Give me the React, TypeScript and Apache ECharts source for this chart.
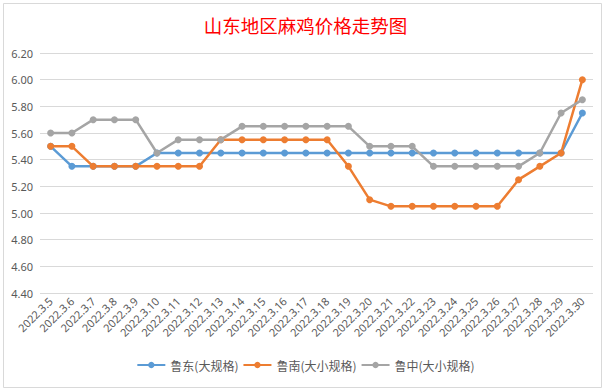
import React, { useEffect, useRef } from "react";
import * as echarts from "echarts";

const categories = [
  "2022.3.5", "2022.3.6", "2022.3.7", "2022.3.8", "2022.3.9", "2022.3.10",
  "2022.3.11", "2022.3.12", "2022.3.13", "2022.3.14", "2022.3.15", "2022.3.16",
  "2022.3.17", "2022.3.18", "2022.3.19", "2022.3.20", "2022.3.21", "2022.3.22",
  "2022.3.23", "2022.3.24", "2022.3.25", "2022.3.26", "2022.3.27", "2022.3.28",
  "2022.3.29", "2022.3.30",
];

const ludong = [
  5.5, 5.35, 5.35, 5.35, 5.35, 5.45, 5.45, 5.45, 5.45, 5.45, 5.45, 5.45, 5.45,
  5.45, 5.45, 5.45, 5.45, 5.45, 5.45, 5.45, 5.45, 5.45, 5.45, 5.45, 5.45, 5.75,
];
const lunan = [
  5.5, 5.5, 5.35, 5.35, 5.35, 5.35, 5.35, 5.35, 5.55, 5.55, 5.55, 5.55, 5.55,
  5.55, 5.35, 5.1, 5.05, 5.05, 5.05, 5.05, 5.05, 5.05, 5.25, 5.35, 5.45, 6.0,
];
const luzhong = [
  5.6, 5.6, 5.7, 5.7, 5.7, 5.45, 5.55, 5.55, 5.55, 5.65, 5.65, 5.65, 5.65,
  5.65, 5.65, 5.5, 5.5, 5.5, 5.35, 5.35, 5.35, 5.35, 5.35, 5.45, 5.75, 5.85,
];

const seriesNames = ["鲁东(大规格)", "鲁南(大小规格)", "鲁中(大小规格)"];
const colors = ["#5B9BD5", "#ED7D31", "#A5A5A5"];

export default function App() {
  const ref = useRef<HTMLDivElement>(null);
  useEffect(() => {
    if (!ref.current) return;
    const chart = echarts.init(ref.current, null, { renderer: "svg" });
    const mk = (name: string, data: number[], color: string) => ({
      name,
      type: "line",
      data,
      symbol: "circle",
      symbolSize: 7,
      lineStyle: { width: 2.5, color },
      itemStyle: { color },
    });
    chart.setOption({
      animation: false,
      backgroundColor: "#ffffff",
      title: {
        text: "山东地区麻鸡价格走势图",
        left: "center",
        top: 11,
        textStyle: {
          color: "#FF0000",
          fontSize: 18.5,
          fontWeight: "normal",
          fontFamily: "Noto Sans CJK SC",
        },
      },
      graphic: [
        {
          type: "rect",
          shape: { x: 3.5, y: 3.5, width: 598, height: 384 },
          style: { fill: "none", stroke: "#D9D9D9", lineWidth: 1 },
          silent: true,
        },
      ],
      legend: {
        bottom: 15,
        left: "center",
        itemWidth: 28,
        itemHeight: 8,
        itemGap: 4,
        textStyle: { color: "#595959", fontSize: 12, fontFamily: "Noto Sans CJK SC" },
        data: seriesNames,
      },
      grid: { left: 40, right: 18, top: 53, bottom: 98, containLabel: false },
      xAxis: {
        type: "category",
        data: categories,
        boundaryGap: true,
        axisLine: { show: false },
        axisTick: { show: false },
        axisLabel: {
          rotate: 45,
          interval: 0,
          color: "#595959",
          fontSize: 11,
          margin: 6,
          fontFamily: "Noto Sans",
        },
      },
      yAxis: {
        type: "value",
        min: 4.4,
        max: 6.2,
        interval: 0.2,
        axisLine: { show: false },
        axisTick: { show: false },
        axisLabel: {
          color: "#595959",
          fontSize: 11,
          margin: 7,
          fontFamily: "Noto Sans",
          formatter: (v: number) => v.toFixed(2),
        },
        splitLine: { lineStyle: { color: "#D9D9D9", width: 1 } },
      },
      series: [
        mk(seriesNames[0], ludong, colors[0]),
        mk(seriesNames[1], lunan, colors[1]),
        mk(seriesNames[2], luzhong, colors[2]),
      ],
    });
    return () => chart.dispose();
  }, []);
  return <div ref={ref} style={{ width: 611, height: 391, position: "absolute", left: 0, top: 0 }} />;
}
